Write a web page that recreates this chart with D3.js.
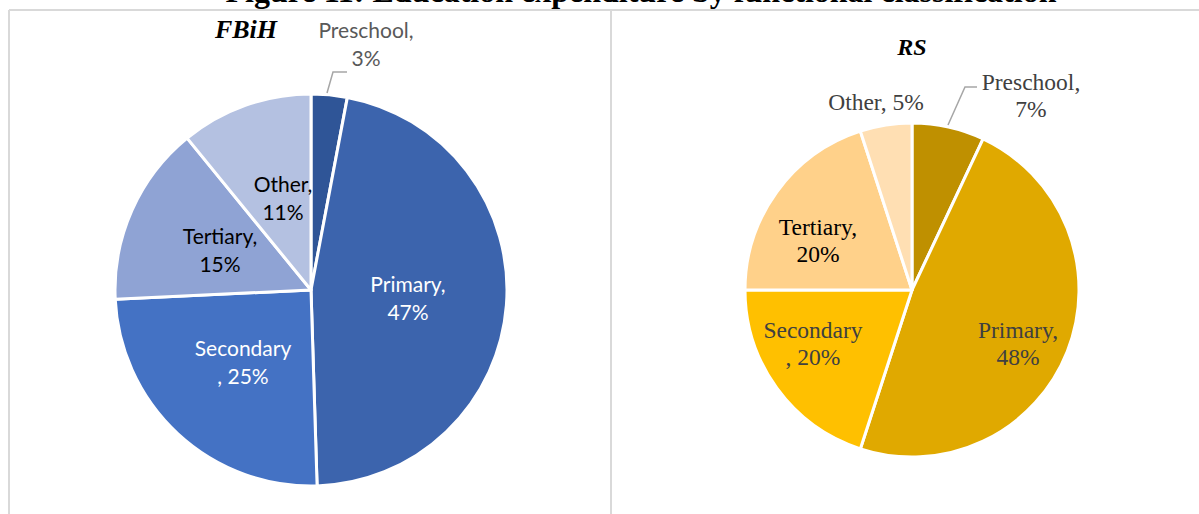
<!DOCTYPE html>
<html>
<head>
<meta charset="utf-8">
<script src="https://cdn.jsdelivr.net/npm/d3@7"></script>
<style>
  html, body { margin: 0; padding: 0; background: #fff; }
  svg { display: block; }
</style>
</head>
<body>
<svg id="chart" width="1199" height="514"></svg>
<script>
// Education expenditure by functional classification (share of total, %)
const categories = ["Preschool", "Primary", "Secondary", "Tertiary", "Other"];
const fbihValues = [3, 47, 25, 15, 11];
const rsValues = [7, 48, 20, 20, 5];
const fbihColors = ["#2f5597", "#3c64ad", "#4472c4", "#8fa3d4", "#b4c1e1"];
const rsColors = ["#bf9000", "#e0a900", "#ffc000", "#ffd18a", "#ffdfb3"];

const svg = d3.select("#chart");

// Figure caption, partly above the frame
svg.append("text")
  .attr("x", 641).attr("y", 2)
  .attr("text-anchor", "middle")
  .style("font-family", "'Liberation Serif', 'Times New Roman', serif")
  .style("font-weight", "bold")
  .style("font-size", "32px")
  .text("Figure 11: Education expenditure by functional classification");

// Panel frame
const frame = svg.append("g").attr("stroke", "#d9d9d9").attr("stroke-width", 2).attr("fill", "none");
frame.append("line").attr("x1", 9).attr("x2", 1199).attr("y1", 10).attr("y2", 10);
frame.append("line").attr("x1", 9).attr("x2", 9).attr("y1", 10).attr("y2", 514);
frame.append("line").attr("x1", 611).attr("x2", 611).attr("y1", 10).attr("y2", 514);

const pie = d3.pie().sort(null).value(d => d.value);

function drawPie(opts) {
  const data = categories.map((c, i) => ({ cat: c, value: opts.values[i], color: opts.colors[i] }));
  const arcs = pie(data);
  const arc = d3.arc().innerRadius(0).outerRadius(opts.r);
  const g = svg.append("g").attr("transform", `translate(${opts.cx},${opts.cy})`);

  g.selectAll("path").data(arcs).join("path")
    .attr("d", arc)
    .attr("fill", d => d.data.color)
    .attr("stroke", "#fff")
    .attr("stroke-width", 3)
    .attr("stroke-linejoin", "round");

  // Panel title
  svg.append("text")
    .attr("x", opts.title.x).attr("y", opts.title.y)
    .attr("text-anchor", "middle")
    .style("font-family", "'Liberation Serif', 'Times New Roman', serif")
    .style("font-weight", "bold").style("font-style", "italic")
    .style("font-size", opts.title.size)
    .text(opts.title.text);

  // Leader line for the small outside label
  if (opts.leader) {
    svg.append("polyline")
      .attr("points", opts.leader.map(p => p.join(",")).join(" "))
      .attr("fill", "none").attr("stroke", "#a6a6a6").attr("stroke-width", 1.5);
  }

  // Slice labels
  arcs.forEach((a, i) => {
    const lab = opts.labels[i];
    const t = svg.append("text")
      .attr("text-anchor", "middle")
      .attr("fill", lab.color)
      .style("font-family", opts.font)
      .style("font-size", opts.fontSize);
    lab.lines.forEach((ln, k) => {
      t.append("tspan").attr("x", lab.x).attr("y", lab.y + k * opts.lineH)
        .text(ln.replace("{v}", a.data.value));
    });
  });
}

drawPie({
  cx: 311, cy: 290, r: 196,
  values: fbihValues, colors: fbihColors,
  font: "Lato, 'Open Sans', sans-serif", fontSize: "21px", lineH: 28,
  title: { text: "FBiH", x: 246, y: 38, size: "26px" },
  leader: [[347, 72], [333, 72], [327, 93]],
  labels: [
    { x: 366, y: 38, color: "#595959", lines: ["Preschool,", "{v}%"] },
    { x: 408, y: 292, color: "#ffffff", lines: ["Primary,", "{v}%"] },
    { x: 243, y: 356, color: "#ffffff", lines: ["Secondary", ", {v}%"] },
    { x: 220, y: 244, color: "#000000", lines: ["Tertiary,", "{v}%"] },
    { x: 283, y: 192, color: "#000000", lines: ["Other,", "{v}%"] }
  ]
});

drawPie({
  cx: 912, cy: 290, r: 167,
  values: rsValues, colors: rsColors,
  font: "'Liberation Serif', 'Times New Roman', serif", fontSize: "23.5px", lineH: 27,
  title: { text: "RS", x: 912, y: 55, size: "24px" },
  leader: [[977, 87], [965, 87], [948, 125]],
  labels: [
    { x: 1031, y: 90, color: "#404040", lines: ["Preschool,", "{v}%"] },
    { x: 1018, y: 338, color: "#404040", lines: ["Primary,", "{v}%"] },
    { x: 813, y: 338, color: "#404040", lines: ["Secondary", ", {v}%"] },
    { x: 818, y: 235, color: "#000000", lines: ["Tertiary,", "{v}%"] },
    { x: 876, y: 110, color: "#404040", lines: ["Other, {v}%"] }
  ]
});
</script>
</body>
</html>
